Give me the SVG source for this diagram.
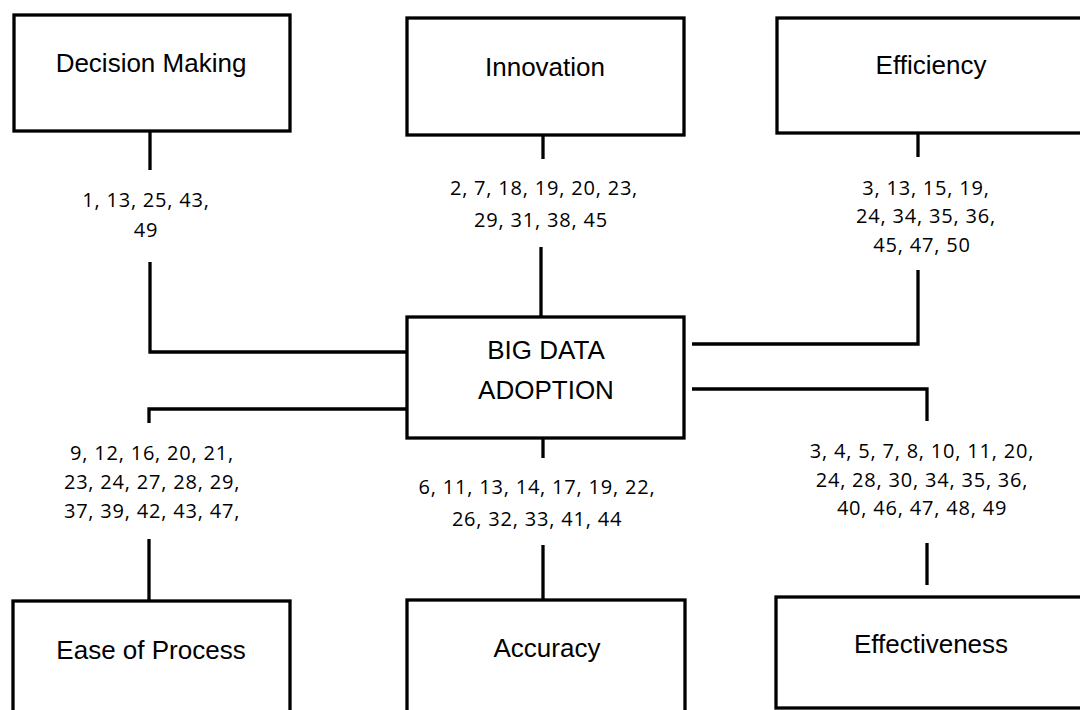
<svg xmlns="http://www.w3.org/2000/svg" width="1080" height="710" viewBox="0 0 1080 710">
<style>
.box{fill:#fff;stroke:#000;stroke-width:3.3}
.t{font-family:"Liberation Sans",Arial,sans-serif;font-size:26px;fill:#000;text-anchor:middle}
.lbl{font-family:"Open Sans","Noto Sans",sans-serif;font-size:20px;letter-spacing:0.8px;fill:#000;text-anchor:middle}
.c{fill:none;stroke:#000;stroke-width:3.3}
</style>
<rect width="1080" height="710" fill="#fff"/>
<g id="connectors">
<path class="c" d="M150 131V170M150 262V352H407"/>
<path class="c" d="M543 135V159M541 247V317"/>
<path class="c" d="M918 133V157M918 270V344H692"/>
<path class="c" d="M692 389H927V421M927 543V585"/>
<path class="c" d="M543 438V458M543 545V600"/>
<path class="c" d="M407 409H149V423M149 539V606"/>
</g>
<g id="labels">
<text class="lbl" x="146" y="207">1, 13, 25, 43,</text>
<text class="lbl" x="146" y="237">49</text>
<text class="lbl" x="544" y="195">2, 7, 18, 19, 20, 23,</text>
<text class="lbl" x="541" y="227">29, 31, 38, 45</text>
<text class="lbl" x="926" y="195">3, 13, 15, 19,</text>
<text class="lbl" x="926" y="223">24, 34, 35, 36,</text>
<text class="lbl" x="922" y="252">45, 47, 50</text>
<text class="lbl" x="152" y="460">9, 12, 16, 20, 21,</text>
<text class="lbl" x="152" y="489">23, 24, 27, 28, 29,</text>
<text class="lbl" x="152" y="518">37, 39, 42, 43, 47,</text>
<text class="lbl" x="537" y="494">6, 11, 13, 14, 17, 19, 22,</text>
<text class="lbl" x="537" y="526">26, 32, 33, 41, 44</text>
<text class="lbl" x="922" y="458">3, 4, 5, 7, 8, 10, 11, 20,</text>
<text class="lbl" x="922" y="487">24, 28, 30, 34, 35, 36,</text>
<text class="lbl" x="922" y="515">40, 46, 47, 48, 49</text>
</g>
<g id="decision-making"><rect class="box" x="14" y="15" width="276" height="116"/><text class="t" x="151" y="72">Decision Making</text></g>
<g id="innovation"><rect class="box" x="407" y="18" width="277" height="117"/><text class="t" x="545" y="76">Innovation</text></g>
<g id="efficiency"><rect class="box" x="777" y="18" width="320" height="115"/><text class="t" x="931" y="74">Efficiency</text></g>
<g id="big-data-adoption"><rect class="box" x="407" y="317" width="277" height="121"/><text class="t" x="546" y="359">BIG DATA</text><text class="t" x="546" y="399">ADOPTION</text></g>
<g id="ease-of-process"><rect class="box" x="13" y="601" width="277" height="130"/><text class="t" x="151" y="659">Ease of Process</text></g>
<g id="accuracy"><rect class="box" x="407" y="600" width="278" height="130"/><text class="t" x="547" y="657">Accuracy</text></g>
<g id="effectiveness"><rect class="box" x="776" y="597" width="320" height="111"/><text class="t" x="931" y="653">Effectiveness</text></g>
</svg>
